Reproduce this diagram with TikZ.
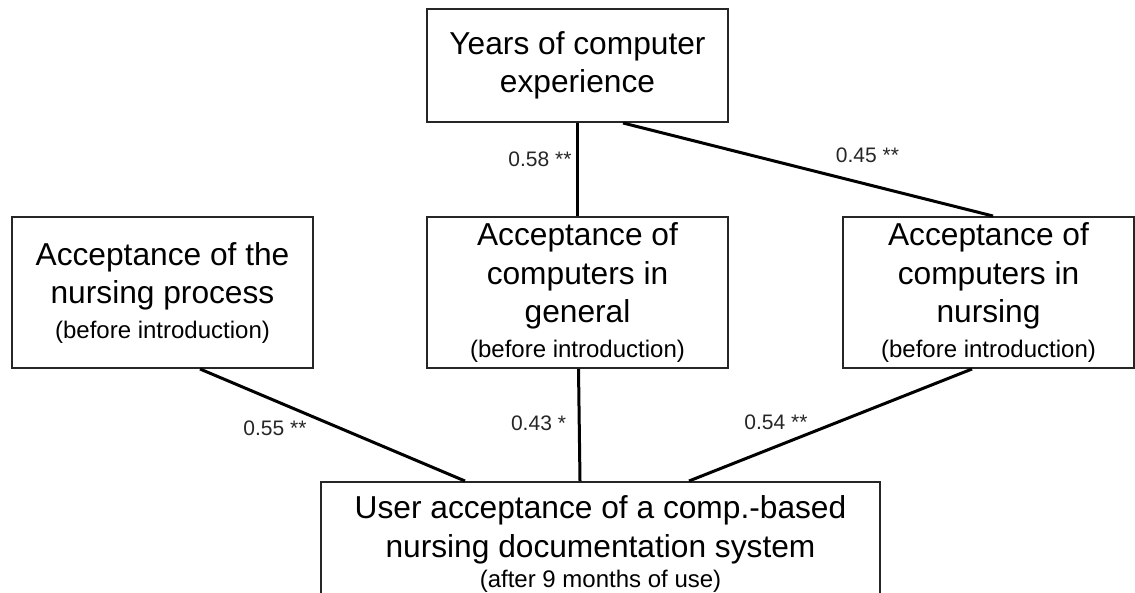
\documentclass[tikz,border=0pt]{standalone}
\usepackage{fontspec}
\setmainfont{Liberation Sans}
\usetikzlibrary{calc}
\newcommand\subline[2][-4pt]{\\[#1]{\fontsize{24}{29}\selectfont #2}}
\tikzset{
  box/.style={draw=black!85, line width=2pt, inner sep=0pt, align=center,
    font=\fontsize{31.7}{38.5}\selectfont},
  link/.style={line width=3pt, line cap=butt},
  coef/.style={font=\fontsize{21}{25}\selectfont, inner sep=0pt, text=black!85},
}
\begin{document}
\begin{tikzpicture}[x=1pt, y=-1pt]
  \useasboundingbox (0,0) rectangle (1135,592);
  \fill[white] (0,0) rectangle (1135,592);
  \clip (0,0) rectangle (1135,592);

  % boxes
  \node[box, minimum width=301pt, minimum height=113pt] (years) at (577.5,65.5)
    {Years of computer\\experience};
  \node[box, minimum width=301pt, minimum height=151pt] (proc) at (162.5,292.5)
    {Acceptance of the\\nursing process\subline{(before introduction)}};
  \node[box, minimum width=301pt, minimum height=151pt] (gen) at (577.5,292.5)
    {Acceptance of\\computers in\\general\subline{(before introduction)}};
  \node[box, minimum width=291pt, minimum height=151pt] (nurs) at (988.5,292.5)
    {Acceptance of\\computers in\\nursing\subline{(before introduction)}};
  \node[box, minimum width=559pt, minimum height=124pt] (user) at (600.5,544)
    {User acceptance of a comp.-based\\nursing documentation system\subline[-8pt]{(after 9 months of use)}};

  % connectors
  \draw[link] (years.south) -- (gen.north);
  \draw[link] ([xshift=45.5pt]years.south) -- ([xshift=4.5pt]nurs.north);
  \draw[link] ([xshift=37.5pt]proc.south) -- ([xshift=-135.5pt]user.north);
  \draw[link] ([xshift=1pt]gen.south) -- ([xshift=-20.5pt]user.north);
  \draw[link] ([xshift=-16.5pt]nurs.south) -- ([xshift=88.5pt]user.north);

  % coefficients
  \node[coef] (c1) at (540,159) {0.58 **};
  \node[coef] (c2) at (867.5,155) {0.45 **};
  \node[coef] (c3) at (275,428) {0.55 **};
  \node[coef] (c4) at (538.5,423) {0.43 *};
  \node[coef] (c5) at (776,422) {0.54 **};
\end{tikzpicture}
\end{document}
